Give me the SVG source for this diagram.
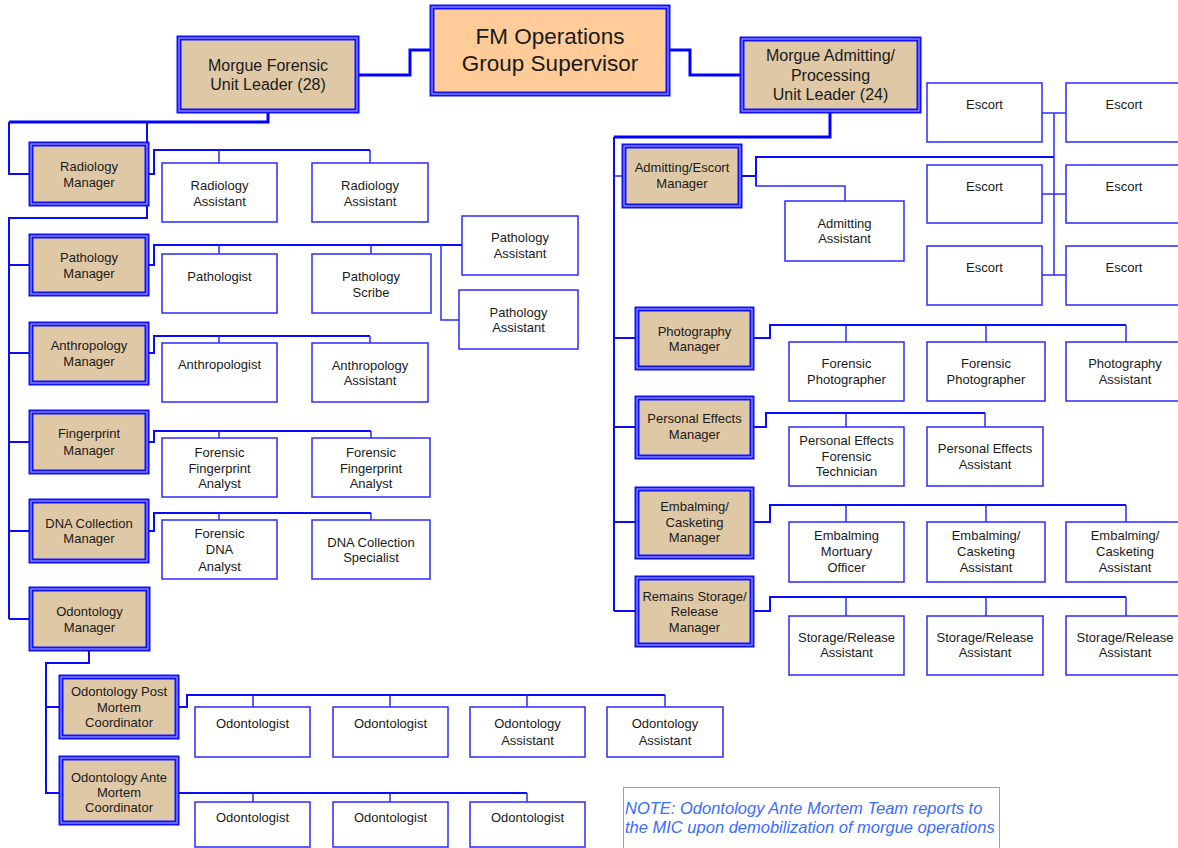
<svg xmlns="http://www.w3.org/2000/svg" width="1178" height="848" viewBox="0 0 1178 848">
  <style>
    text { font-family: "Liberation Sans", Arial, sans-serif; fill: #1a1a1a; text-anchor: middle; }
    .t13 { font-size: 13px; }
    .t16 { font-size: 16px; }
    .t22 { font-size: 22.5px; }
    .note { font-size: 16.5px; font-style: italic; fill: #3a6cff; text-anchor: start; }
    .box { fill: #ffffff; stroke: #2b2bff; stroke-width: 1.5; }
    .mgr { fill: #dfc8a5; stroke: #1010ff; stroke-width: 5; }
    .sup { fill: #ffcc99; stroke: #1010ff; stroke-width: 5; }
    .gap { fill: none; stroke: #b4b4ff; stroke-width: 1; }
    .notebox { fill: #ffffff; stroke: #a0a0a0; stroke-width: 1; }
    .thick { fill: none; stroke: #0000ff; stroke-width: 3; }
    .mid { fill: none; stroke: #0a0aff; stroke-width: 2; }
    .thin { fill: none; stroke: #2b2bff; stroke-width: 1.5; }
  </style>

  <!-- connectors -->
  <g id="connectors">
    <!-- supervisor to unit leaders -->
    <polyline class="thick" points="432,50 410,50 410,75 357,75"/>
    <polyline class="thick" points="668,50 690,50 690,75 742,75"/>

    <!-- forensic unit -->
    <polyline class="thick" points="268,111 268,122 9,122"/>
    <polyline class="mid" points="9,122 9,174 31,174"/>
    <polyline class="mid" points="147,122 147,218 9,218 9,619"/>
    <line class="mid" x1="9" y1="265" x2="31" y2="265"/>
    <line class="mid" x1="9" y1="353" x2="31" y2="353"/>
    <line class="mid" x1="9" y1="442" x2="31" y2="442"/>
    <line class="mid" x1="9" y1="531" x2="31" y2="531"/>
    <line class="mid" x1="9" y1="619" x2="31" y2="619"/>

    <!-- radiology -->
    <polyline class="mid" points="147,174 154,174 154,150 370,150"/>
    <line class="thin" x1="219" y1="150" x2="219" y2="163"/>
    <line class="thin" x1="370" y1="150" x2="370" y2="163"/>

    <!-- pathology -->
    <polyline class="mid" points="147,265 154,265 154,245 462,245"/>
    <line class="thin" x1="219" y1="245" x2="219" y2="254"/>
    <line class="thin" x1="371" y1="245" x2="371" y2="254"/>
    <polyline class="thin" points="441,245 441,320 459,320"/>

    <!-- anthropology -->
    <polyline class="mid" points="147,353 154,353 154,336 370,336"/>
    <line class="thin" x1="219" y1="336" x2="219" y2="343"/>
    <line class="thin" x1="370" y1="336" x2="370" y2="343"/>

    <!-- fingerprint -->
    <polyline class="mid" points="147,442 154,442 154,431 371,431"/>
    <line class="thin" x1="219" y1="431" x2="219" y2="438"/>
    <line class="thin" x1="371" y1="431" x2="371" y2="438"/>

    <!-- dna -->
    <polyline class="mid" points="147,531 154,531 154,513 371,513"/>
    <line class="thin" x1="219" y1="513" x2="219" y2="520"/>
    <line class="thin" x1="371" y1="513" x2="371" y2="520"/>

    <!-- odontology -->
    <polyline class="mid" points="89,649 89,663 46,663 46,793 61,793"/>
    <line class="mid" x1="46" y1="707" x2="61" y2="707"/>
    <polyline class="mid" points="177,707 187,707 187,695 665,695"/>
    <line class="thin" x1="253" y1="695" x2="253" y2="707"/>
    <line class="thin" x1="390" y1="695" x2="390" y2="707"/>
    <line class="thin" x1="527" y1="695" x2="527" y2="707"/>
    <line class="thin" x1="665" y1="695" x2="665" y2="707"/>
    <line class="mid" x1="177" y1="793" x2="527" y2="793"/>
    <line class="thin" x1="253" y1="793" x2="253" y2="802"/>
    <line class="thin" x1="390" y1="793" x2="390" y2="802"/>
    <line class="thin" x1="527" y1="793" x2="527" y2="802"/>

    <!-- admitting / processing unit -->
    <polyline class="thick" points="830,111 830,137 614,137"/>
    <line class="mid" x1="614" y1="137" x2="614" y2="611"/>
    <line class="thin" x1="614" y1="176" x2="624" y2="176"/>
    <line class="mid" x1="614" y1="338" x2="637" y2="338"/>
    <line class="mid" x1="614" y1="427" x2="637" y2="427"/>
    <line class="mid" x1="614" y1="522" x2="637" y2="522"/>
    <line class="mid" x1="614" y1="611" x2="637" y2="611"/>

    <!-- admitting / escort -->
    <polyline class="mid" points="740,176 756,176"/>
    <polyline class="mid" points="756,186 756,157 1054,157"/>
    <polyline class="thin" points="756,176 756,186 845,186 845,201"/>
    <line class="thin" x1="1054" y1="113" x2="1054" y2="275"/>
    <line class="thin" x1="1042" y1="113" x2="1066" y2="113"/>
    <line class="thin" x1="1042" y1="194" x2="1066" y2="194"/>
    <line class="thin" x1="1042" y1="275" x2="1066" y2="275"/>

    <!-- photography -->
    <polyline class="mid" points="752,338 770,338 770,325 1126,325"/>
    <line class="thin" x1="846" y1="325" x2="846" y2="342"/>
    <line class="thin" x1="986" y1="325" x2="986" y2="342"/>
    <line class="thin" x1="1126" y1="325" x2="1126" y2="342"/>

    <!-- personal effects -->
    <polyline class="mid" points="752,427 766,427 766,413 985,413"/>
    <line class="thin" x1="846" y1="413" x2="846" y2="427"/>
    <line class="thin" x1="985" y1="413" x2="985" y2="427"/>

    <!-- embalming -->
    <polyline class="mid" points="752,522 770,522 770,505 1126,505"/>
    <line class="thin" x1="846" y1="505" x2="846" y2="522"/>
    <line class="thin" x1="986" y1="505" x2="986" y2="522"/>
    <line class="thin" x1="1126" y1="505" x2="1126" y2="522"/>

    <!-- remains storage -->
    <polyline class="mid" points="752,611 770,611 770,597 1126,597"/>
    <line class="thin" x1="846" y1="597" x2="846" y2="616"/>
    <line class="thin" x1="986" y1="597" x2="986" y2="616"/>
    <line class="thin" x1="1126" y1="597" x2="1126" y2="616"/>
  </g>

  <!-- top level -->
  <g id="supervisor">
    <rect class="sup" x="432" y="7" width="236" height="87"/>
    <rect class="gap" x="432" y="7" width="236" height="87"/>
    <text class="t22" x="550" y="44">FM Operations</text>
    <text class="t22" x="550" y="71">Group Supervisor</text>
  </g>

  <g id="forensic-leader">
    <rect class="mgr" x="179" y="38" width="178" height="73"/>
    <rect class="gap" x="179" y="38" width="178" height="73"/>
    <text class="t16" x="268" y="71">Morgue Forensic</text>
    <text class="t16" x="268" y="90">Unit Leader (28)</text>
  </g>

  <g id="admitting-leader">
    <rect class="mgr" x="742" y="39" width="177" height="72"/>
    <rect class="gap" x="742" y="39" width="177" height="72"/>
    <text class="t16" x="830.5" y="61">Morgue Admitting/</text>
    <text class="t16" x="830.5" y="81">Processing</text>
    <text class="t16" x="830.5" y="100">Unit Leader (24)</text>
  </g>

  <!-- forensic managers -->
  <g id="radiology-manager">
    <rect class="mgr" x="31" y="144" width="116" height="60"/>
    <rect class="gap" x="31" y="144" width="116" height="60"/>
    <text class="t13" x="89" y="171">Radiology</text>
    <text class="t13" x="89" y="187">Manager</text>
  </g>
  <g id="radiology-assistant-1">
    <rect class="box" x="162" y="163" width="115" height="59"/>
    <text class="t13" x="219.5" y="190">Radiology</text>
    <text class="t13" x="219.5" y="206">Assistant</text>
  </g>
  <g id="radiology-assistant-2">
    <rect class="box" x="312" y="163" width="116" height="59"/>
    <text class="t13" x="370" y="190">Radiology</text>
    <text class="t13" x="370" y="206">Assistant</text>
  </g>

  <g id="pathology-manager">
    <rect class="mgr" x="31" y="236" width="116" height="58"/>
    <rect class="gap" x="31" y="236" width="116" height="58"/>
    <text class="t13" x="89" y="262">Pathology</text>
    <text class="t13" x="89" y="278">Manager</text>
  </g>
  <g id="pathologist">
    <rect class="box" x="162" y="254" width="115" height="59"/>
    <text class="t13" x="219.5" y="281">Pathologist</text>
  </g>
  <g id="pathology-scribe">
    <rect class="box" x="312" y="254" width="119" height="59"/>
    <text class="t13" x="371" y="281">Pathology</text>
    <text class="t13" x="371" y="297">Scribe</text>
  </g>
  <g id="pathology-assistant-1">
    <rect class="box" x="462" y="216" width="116" height="59"/>
    <text class="t13" x="520" y="242">Pathology</text>
    <text class="t13" x="520" y="258">Assistant</text>
  </g>
  <g id="pathology-assistant-2">
    <rect class="box" x="459" y="290" width="119" height="59"/>
    <text class="t13" x="518.5" y="317">Pathology</text>
    <text class="t13" x="518.5" y="332">Assistant</text>
  </g>

  <g id="anthropology-manager">
    <rect class="mgr" x="31" y="324" width="116" height="59"/>
    <rect class="gap" x="31" y="324" width="116" height="59"/>
    <text class="t13" x="89" y="350">Anthropology</text>
    <text class="t13" x="89" y="366">Manager</text>
  </g>
  <g id="anthropologist">
    <rect class="box" x="162" y="343" width="115" height="59"/>
    <text class="t13" x="219.5" y="369">Anthropologist</text>
  </g>
  <g id="anthropology-assistant">
    <rect class="box" x="312" y="343" width="116" height="59"/>
    <text class="t13" x="370" y="370">Anthropology</text>
    <text class="t13" x="370" y="385">Assistant</text>
  </g>

  <g id="fingerprint-manager">
    <rect class="mgr" x="31" y="412" width="116" height="60"/>
    <rect class="gap" x="31" y="412" width="116" height="60"/>
    <text class="t13" x="89" y="438">Fingerprint</text>
    <text class="t13" x="89" y="455">Manager</text>
  </g>
  <g id="fingerprint-analyst-1">
    <rect class="box" x="162" y="438" width="115" height="59"/>
    <text class="t13" x="219.5" y="457">Forensic</text>
    <text class="t13" x="219.5" y="473">Fingerprint</text>
    <text class="t13" x="219.5" y="488">Analyst</text>
  </g>
  <g id="fingerprint-analyst-2">
    <rect class="box" x="312" y="438" width="118" height="59"/>
    <text class="t13" x="371" y="457">Forensic</text>
    <text class="t13" x="371" y="473">Fingerprint</text>
    <text class="t13" x="371" y="488">Analyst</text>
  </g>

  <g id="dna-manager">
    <rect class="mgr" x="31" y="501" width="116" height="60"/>
    <rect class="gap" x="31" y="501" width="116" height="60"/>
    <text class="t13" x="89" y="528">DNA Collection</text>
    <text class="t13" x="89" y="543">Manager</text>
  </g>
  <g id="dna-analyst">
    <rect class="box" x="162" y="520" width="115" height="59"/>
    <text class="t13" x="219.5" y="538">Forensic</text>
    <text class="t13" x="219.5" y="554">DNA</text>
    <text class="t13" x="219.5" y="571">Analyst</text>
  </g>
  <g id="dna-specialist">
    <rect class="box" x="312" y="520" width="118" height="59"/>
    <text class="t13" x="371" y="547">DNA Collection</text>
    <text class="t13" x="371" y="562">Specialist</text>
  </g>

  <g id="odontology-manager">
    <rect class="mgr" x="31" y="589" width="117" height="60"/>
    <rect class="gap" x="31" y="589" width="117" height="60"/>
    <text class="t13" x="89.5" y="616">Odontology</text>
    <text class="t13" x="89.5" y="632">Manager</text>
  </g>

  <g id="post-mortem-coordinator">
    <rect class="mgr" x="61" y="677" width="116" height="60"/>
    <rect class="gap" x="61" y="677" width="116" height="60"/>
    <text class="t13" x="119" y="696">Odontology Post</text>
    <text class="t13" x="119" y="712">Mortem</text>
    <text class="t13" x="119" y="727">Coordinator</text>
  </g>
  <g id="pm-odontologist-1">
    <rect class="box" x="195" y="707" width="115" height="50"/>
    <text class="t13" x="252.5" y="728">Odontologist</text>
  </g>
  <g id="pm-odontologist-2">
    <rect class="box" x="333" y="707" width="115" height="50"/>
    <text class="t13" x="390.5" y="728">Odontologist</text>
  </g>
  <g id="pm-assistant-1">
    <rect class="box" x="470" y="707" width="115" height="50"/>
    <text class="t13" x="527.5" y="728">Odontology</text>
    <text class="t13" x="527.5" y="745">Assistant</text>
  </g>
  <g id="pm-assistant-2">
    <rect class="box" x="607" y="707" width="116" height="50"/>
    <text class="t13" x="665" y="728">Odontology</text>
    <text class="t13" x="665" y="745">Assistant</text>
  </g>

  <g id="ante-mortem-coordinator">
    <rect class="mgr" x="61" y="758" width="116" height="65"/>
    <rect class="gap" x="61" y="758" width="116" height="65"/>
    <text class="t13" x="119" y="782">Odontology Ante</text>
    <text class="t13" x="119" y="797">Mortem</text>
    <text class="t13" x="119" y="812">Coordinator</text>
  </g>
  <g id="am-odontologist-1">
    <rect class="box" x="195" y="802" width="115" height="45"/>
    <text class="t13" x="252.5" y="822">Odontologist</text>
  </g>
  <g id="am-odontologist-2">
    <rect class="box" x="333" y="802" width="115" height="45"/>
    <text class="t13" x="390.5" y="822">Odontologist</text>
  </g>
  <g id="am-odontologist-3">
    <rect class="box" x="470" y="802" width="115" height="45"/>
    <text class="t13" x="527.5" y="822">Odontologist</text>
  </g>

  <!-- admitting / processing managers -->
  <g id="admitting-escort-manager">
    <rect class="mgr" x="624" y="146" width="116" height="60"/>
    <rect class="gap" x="624" y="146" width="116" height="60"/>
    <text class="t13" x="682" y="172">Admitting/Escort</text>
    <text class="t13" x="682" y="188">Manager</text>
  </g>
  <g id="admitting-assistant">
    <rect class="box" x="785" y="201" width="119" height="60"/>
    <text class="t13" x="844.5" y="228">Admitting</text>
    <text class="t13" x="844.5" y="243">Assistant</text>
  </g>
  <g id="escort-1">
    <rect class="box" x="927" y="83" width="115" height="59"/>
    <text class="t13" x="984.5" y="109">Escort</text>
  </g>
  <g id="escort-2">
    <rect class="box" x="1066" y="83" width="116" height="59"/>
    <text class="t13" x="1124" y="109">Escort</text>
  </g>
  <g id="escort-3">
    <rect class="box" x="927" y="165" width="115" height="58"/>
    <text class="t13" x="984.5" y="191">Escort</text>
  </g>
  <g id="escort-4">
    <rect class="box" x="1066" y="165" width="116" height="58"/>
    <text class="t13" x="1124" y="191">Escort</text>
  </g>
  <g id="escort-5">
    <rect class="box" x="927" y="246" width="115" height="59"/>
    <text class="t13" x="984.5" y="272">Escort</text>
  </g>
  <g id="escort-6">
    <rect class="box" x="1066" y="246" width="116" height="59"/>
    <text class="t13" x="1124" y="272">Escort</text>
  </g>

  <g id="photography-manager">
    <rect class="mgr" x="637" y="309" width="115" height="59"/>
    <rect class="gap" x="637" y="309" width="115" height="59"/>
    <text class="t13" x="694.5" y="336">Photography</text>
    <text class="t13" x="694.5" y="351">Manager</text>
  </g>
  <g id="photographer-1">
    <rect class="box" x="789" y="342" width="115" height="59"/>
    <text class="t13" x="846.5" y="368">Forensic</text>
    <text class="t13" x="846.5" y="384">Photographer</text>
  </g>
  <g id="photographer-2">
    <rect class="box" x="927" y="342" width="118" height="59"/>
    <text class="t13" x="986" y="368">Forensic</text>
    <text class="t13" x="986" y="384">Photographer</text>
  </g>
  <g id="photography-assistant">
    <rect class="box" x="1066" y="342" width="116" height="59"/>
    <text class="t13" x="1125" y="368">Photography</text>
    <text class="t13" x="1125" y="384">Assistant</text>
  </g>

  <g id="personal-effects-manager">
    <rect class="mgr" x="637" y="398" width="115" height="59"/>
    <rect class="gap" x="637" y="398" width="115" height="59"/>
    <text class="t13" x="694.5" y="423">Personal Effects</text>
    <text class="t13" x="694.5" y="439">Manager</text>
  </g>
  <g id="pe-technician">
    <rect class="box" x="789" y="427" width="115" height="59"/>
    <text class="t13" x="846.5" y="445">Personal Effects</text>
    <text class="t13" x="846.5" y="461">Forensic</text>
    <text class="t13" x="846.5" y="476">Technician</text>
  </g>
  <g id="pe-assistant">
    <rect class="box" x="927" y="427" width="116" height="59"/>
    <text class="t13" x="985" y="453">Personal Effects</text>
    <text class="t13" x="985" y="469">Assistant</text>
  </g>

  <g id="embalming-manager">
    <rect class="mgr" x="637" y="489" width="115" height="68"/>
    <rect class="gap" x="637" y="489" width="115" height="68"/>
    <text class="t13" x="694.5" y="511">Embalming/</text>
    <text class="t13" x="694.5" y="527">Casketing</text>
    <text class="t13" x="694.5" y="542">Manager</text>
  </g>
  <g id="mortuary-officer">
    <rect class="box" x="789" y="522" width="115" height="60"/>
    <text class="t13" x="846.5" y="540">Embalming</text>
    <text class="t13" x="846.5" y="556">Mortuary</text>
    <text class="t13" x="846.5" y="572">Officer</text>
  </g>
  <g id="casketing-assistant-1">
    <rect class="box" x="927" y="522" width="118" height="60"/>
    <text class="t13" x="986" y="540">Embalming/</text>
    <text class="t13" x="986" y="556">Casketing</text>
    <text class="t13" x="986" y="572">Assistant</text>
  </g>
  <g id="casketing-assistant-2">
    <rect class="box" x="1066" y="522" width="116" height="60"/>
    <text class="t13" x="1125" y="540">Embalming/</text>
    <text class="t13" x="1125" y="556">Casketing</text>
    <text class="t13" x="1125" y="572">Assistant</text>
  </g>

  <g id="remains-manager">
    <rect class="mgr" x="637" y="578" width="115" height="67"/>
    <rect class="gap" x="637" y="578" width="115" height="67"/>
    <text class="t13" x="694.5" y="601">Remains Storage/</text>
    <text class="t13" x="694.5" y="616">Release</text>
    <text class="t13" x="694.5" y="632">Manager</text>
  </g>
  <g id="storage-assistant-1">
    <rect class="box" x="789" y="616" width="115" height="59"/>
    <text class="t13" x="846.5" y="642">Storage/Release</text>
    <text class="t13" x="846.5" y="657">Assistant</text>
  </g>
  <g id="storage-assistant-2">
    <rect class="box" x="927" y="616" width="116" height="59"/>
    <text class="t13" x="985" y="642">Storage/Release</text>
    <text class="t13" x="985" y="657">Assistant</text>
  </g>
  <g id="storage-assistant-3">
    <rect class="box" x="1066" y="616" width="116" height="59"/>
    <text class="t13" x="1125" y="642">Storage/Release</text>
    <text class="t13" x="1125" y="657">Assistant</text>
  </g>

  <!-- note -->
  <g id="note">
    <rect class="notebox" x="623.5" y="787.5" width="376" height="70"/>
    <text class="note" x="625" y="814">NOTE: Odontology Ante Mortem Team reports to</text>
    <text class="note" x="625" y="833">the MIC upon demobilization of morgue operations</text>
  </g>
</svg>
